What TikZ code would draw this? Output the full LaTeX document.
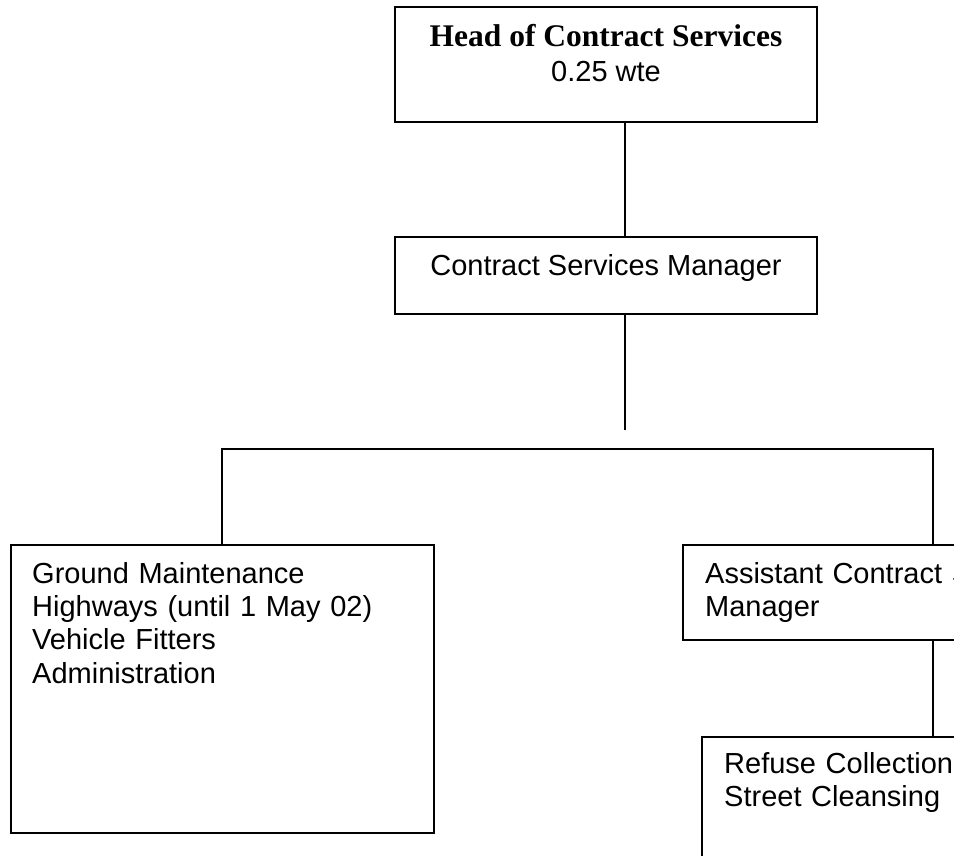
\documentclass[tikz,border=0pt]{standalone}
\usepackage{fontspec}
\setmainfont{Liberation Sans}
\newfontfamily\tnr{Liberation Serif}
\begin{document}
\begin{tikzpicture}[x=1pt,y=-1pt,
  box/.style={draw, line width=1.9pt, rectangle, anchor=north west, inner sep=0pt, outer sep=0pt},
  txt/.style={anchor=base west, inner sep=0pt, font=\fontsize{29}{33.4}\selectfont, align=left, text width=600pt},
  ctxt/.style={anchor=base, inner sep=0pt, font=\fontsize{29}{33.4}\selectfont},
  link/.style={line width=1.9pt}]
\path[use as bounding box, clip] (0,0) rectangle (954,855);
\fill[white] (0,0) rectangle (954,855);
% boxes
\node[box, minimum width=422pt, minimum height=115pt] (head) at (395,7) {};
\node[box, minimum width=422pt, minimum height=77pt] (csm) at (395,237) {};
\node[box, minimum width=423pt, minimum height=288pt] (gm) at (11,545) {};
\node[box, minimum width=400pt, minimum height=95pt] (asst) at (683,545) {};
\node[box, minimum width=400pt, minimum height=200pt] (refuse) at (702,737) {};
% texts
\node[ctxt, font=\tnr\bfseries\fontsize{31.5}{35}\selectfont] (headt) at (606,46) {Head of Contract Services};
\node[ctxt] (headw) at (606,81) {0.25 wte};
\node[ctxt] (csmt) at (606,275) {Contract Services Manager};
\node[txt] (gmt) at (32,583) {Ground Maintenance\\Highways (until 1 May 02)\\Vehicle Fitters\\Administration};
\node[txt] (asstt) at (705,583) {Assistant Contract Services\\Manager};
\node[txt] (refuset) at (724,773) {Refuse Collection\\Street Cleansing};
% connectors
\coordinate (jx) at (625,430);
\coordinate (hl) at (222,449);
\coordinate (hr) at (933,449);
\draw[link] (head.south -| jx) -- (csm.north -| jx);
\draw[link] (csm.south -| jx) -- (jx);
\draw[link] (gm.north -| hl) -- (hl) -- (hr) -- (asst.north -| hr);
\draw[link] (asst.south -| hr) -- (refuse.north -| hr);
\end{tikzpicture}
\end{document}
